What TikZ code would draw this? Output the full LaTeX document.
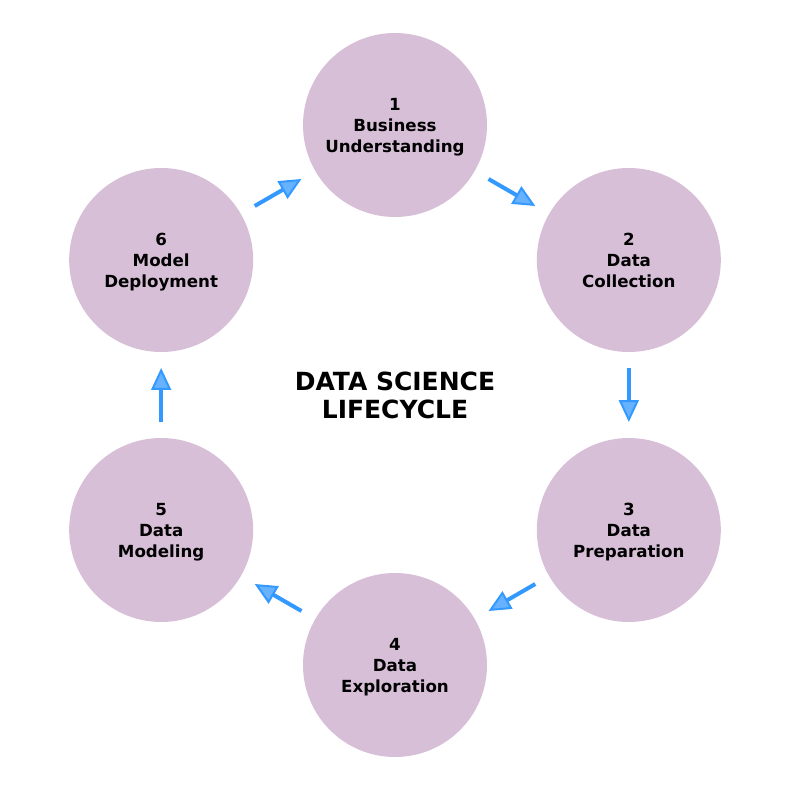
\documentclass[tikz,border=0pt]{standalone}
\usepackage{fontspec}
\setmainfont{DejaVu Sans}
\usetikzlibrary{arrows.meta}
\definecolor{stagefill}{HTML}{D8BFD8}
\definecolor{flowline}{HTML}{3399FF}
\definecolor{flowhead}{HTML}{66B2FF}
\tikzset{stage/.style={circle, fill=stagefill, minimum size=184pt, inner sep=0pt, outer sep=0pt, align=center, text height=55pt, text depth=0pt, font=\fontsize{16.67}{20.8}\selectfont\bfseries}}
\tikzset{flow/.style={draw=flowline, line width=4pt, shorten <=16pt, shorten >=16pt, -{Triangle[length=22pt, width=20pt, line width=2pt, fill=flowhead]}}}
\tikzset{title/.style={align=center, font=\fontsize{25}{28}\selectfont\bfseries}}

\begin{document}
\begin{tikzpicture}
            \useasboundingbox (-395pt,-395pt) rectangle (395pt,395pt);
            \foreach \i/\txt in {1/Business\\Understanding, 2/Data\\Collection, 3/Data\\Preparation, 4/Data\\Exploration, 5/Data\\Modeling, 6/Model\\Deployment}
                \node[stage] (s\i) at ({90-60*(\i-1)}:270pt) {\i\\\txt};
            \foreach \a/\b in {1/2, 2/3, 3/4, 4/5, 5/6, 6/1}
                \draw[flow] (s\a) -- (s\b);
            \node[title] (lifecycle) at (0,0) {DATA SCIENCE\\LIFECYCLE};
        \end{tikzpicture}
\end{document}
